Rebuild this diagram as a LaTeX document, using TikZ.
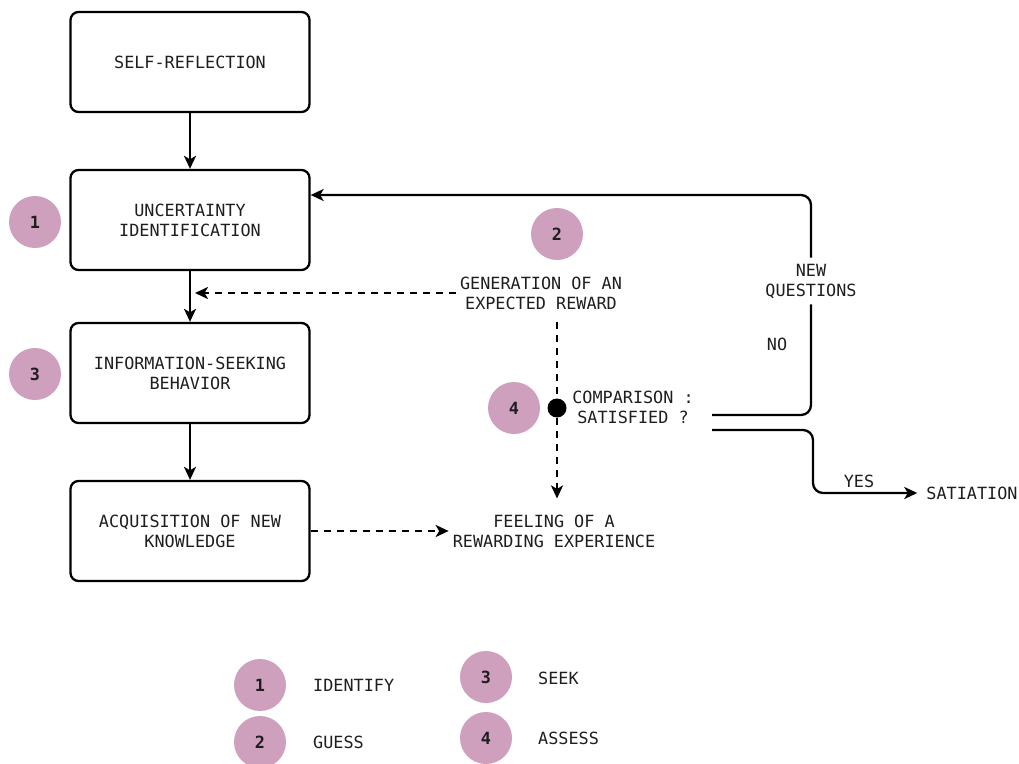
\documentclass[tikz,border=0pt]{standalone}
\usepackage{fontspec}
\newfontfamily\monofont{DejaVu Sans Mono}
\usetikzlibrary{arrows.meta,calc}
\definecolor{mauve}{RGB}{206,160,190}
\definecolor{ink}{RGB}{30,30,30}
\tikzset{
  x=1pt, y=-1pt,
  every node/.style={font=\monofont\fontsize{16.8}{20}\selectfont, text=ink, align=center},
  stagebox/.style={draw=black, line width=2.3pt, rounded corners=8pt,
    minimum width=239pt, minimum height=100pt, inner sep=0pt},
  badge/.style={circle, fill=mauve, minimum size=52pt, inner sep=0pt,
    font=\monofont\bfseries\fontsize{16.8}{20}\selectfont},
  plain/.style={inner sep=4pt},
  flow/.style={line width=2.3pt, draw=black,
    -{Stealth[length=13pt, width=12pt, inset=3.5pt]}},
  link/.style={line width=2.3pt, draw=black},
  dashflow/.style={flow, dash pattern=on 7pt off 6pt},
  dashlink/.style={link, dash pattern=on 7pt off 6pt},
}
\begin{document}
\begin{tikzpicture}
\useasboundingbox[fill=white] (0,0) rectangle (1019,763);

% main stages
\node[stagebox] (sr)  at (190,62)  {SELF-REFLECTION};
\node[stagebox] (ui)  at (190,220) {UNCERTAINTY\\IDENTIFICATION};
\node[stagebox] (isb) at (190,373) {INFORMATION-SEEKING\\BEHAVIOR};
\node[stagebox] (acq) at (190,531) {ACQUISITION OF NEW\\KNOWLEDGE};

% numbered badges
\node[badge] (b1) at (35,222)  {1};
\node[badge] (b3) at (35,374)  {3};
\node[badge] (b2) at (557,234) {2};
\node[badge] (b4) at (514,408) {4};

% free-standing labels
\node[plain] (gen)  at (541,293) {GENERATION OF AN\\EXPECTED REWARD};
\node[plain] (cmp)  at (633,407) {COMPARISON :\\SATISFIED ?};
\node[plain] (feel) at (554,531) {FEELING OF A\\REWARDING EXPERIENCE};
\node[plain, inner ysep=6pt] (newq) at (811,281) {NEW\\QUESTIONS};
\node[plain] (no)   at (777,344) {NO};
\node[plain] (yes)  at (859,481) {YES};
\node[plain, inner xsep=9pt] (sat) at (972,493) {SATIATION};

% decision point
\node[circle, fill=black, minimum size=19pt, inner sep=0pt] (dot) at (557,408) {};
\coordinate (noStart)  at (712,415);
\coordinate (yesStart) at (712,430);

% solid flow between stages
\draw[flow] (sr.south) -- (ui.north);
\draw[flow] (ui.south) -- (isb.north);
\draw[flow] (isb.south) -- (acq.north);

% expected reward feeds back into the flow
\draw[dashflow, shorten >=5pt] (gen.west) -- (gen.west -| ui.south);
\draw[dashlink] ($(dot |- gen.south)+(0,8)$) -- (dot.north);
\draw[dashflow, shorten >=12pt] (dot.south) -- (dot |- feel.north);
\draw[dashflow] (acq.east) -- (feel.west);

% NO branch: new questions loop back
\draw[link, rounded corners=10pt] (noStart) -| (newq.south);
\draw[flow, rounded corners=10pt] (newq.north) |- ([yshift=25pt]ui.east);

% YES branch: satiation
\draw[flow, rounded corners=10pt] (yesStart) -- (813,430) |- (sat.west);

% legend
\node[badge] (l1) at (260,685) {1};
\node[badge] (l2) at (260,742) {2};
\node[badge] (l3) at (486,677) {3};
\node[badge] (l4) at (486,738) {4};
\node[plain, anchor=west] (t1) at (309,685) {IDENTIFY};
\node[plain, anchor=west] (t2) at (309,742) {GUESS};
\node[plain, anchor=west] (t3) at (534,678) {SEEK};
\node[plain, anchor=west] (t4) at (534,738) {ASSESS};
\end{tikzpicture}
\end{document}
